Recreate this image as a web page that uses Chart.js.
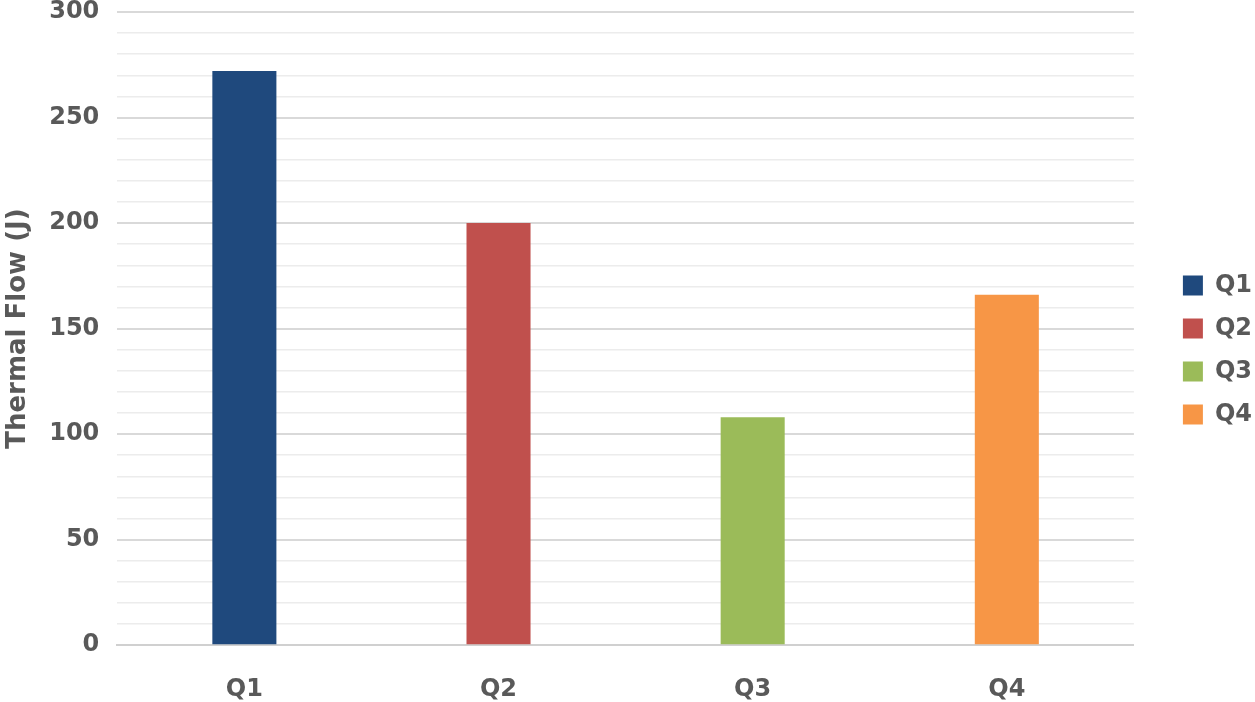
<!DOCTYPE html>
<html lang="en">
<head>
  <meta charset="UTF-8">
  <title>Thermal Flow</title>
  <script src="https://cdn.jsdelivr.net/npm/chart.js"></script>
  <style>
    html, body { margin: 0; padding: 0; background: #fff; }
    #wrap { width: 1255px; height: 702px; }
  </style>
</head>
<body>
  <div id="wrap"><canvas id="graphique" width="1255" height="702"></canvas></div>
  <script>
    const quarters = ["Q1", "Q2", "Q3", "Q4"];
    const thermalFlow = [272, 200, 108, 166];
    const barColors = ["#1f497d", "#c0504d", "#9bbb59", "#f79646"];

    const txt = "#595959";
    const font = { family: "DejaVu Sans", weight: "bold", size: 24 };

    // push the legend away from the plot, like the original
    const legendGap = {
      id: "legendGap",
      afterLayout(chart) {
        const lg = chart.legend;
        const w = lg.width;
        lg.left = chart.chartArea.right + 49 - lg.options.labels.padding;
        lg.right = lg.left + w;
        lg.top -= 13;
        lg.bottom -= 13;
      }
    };

    new Chart(document.getElementById("graphique"), {
      type: "bar",
      data: {
        labels: quarters,
        datasets: [{
          label: "Thermal Flow (J)",
          data: thermalFlow,
          backgroundColor: barColors,
          categoryPercentage: 1,
          barPercentage: 0.252
        }]
      },
      plugins: [legendGap],
      options: {
        responsive: false,
        animation: false,
        layout: { padding: { top: 0, left: 0, right: 23, bottom: -24 } },
        plugins: {
          tooltip: { enabled: false },
          legend: {
            position: "right",
            labels: {
              color: txt,
              font: font,
              boxWidth: 20,
              boxHeight: 20,
              padding: 19,
              generateLabels: chart => chart.data.labels.map((l, i) => ({
                text: l,
                fillStyle: barColors[i],
                strokeStyle: barColors[i],
                lineWidth: 0,
                fontColor: txt,
                index: i
              }))
            }
          }
        },
        scales: {
          x: {
            grid: { display: false },
            border: { display: true, color: "#d0d0d0", width: 2 },
            ticks: { color: txt, font: font, padding: 22 }
          },
          y: {
            min: 0,
            max: 300,
            border: { display: false },
            grid: {
              drawTicks: true,
              tickLength: 18,
              tickColor: "rgba(0,0,0,0)",
              color: c => c.tick.value % 50 === 0 ? "#d9d9d9" : "#ececec",
              lineWidth: c => c.tick.value % 50 === 0 ? 2 : 1.5
            },
            ticks: {
              stepSize: 10,
              autoSkip: false,
              color: txt,
              font: { family: "DejaVu Sans", weight: "bold", size: 24, lineHeight: 1 },
              padding: 0,
              callback: v => v % 50 === 0 ? v : ""
            },
            title: {
              display: true,
              text: "Thermal Flow (J)",
              color: txt,
              font: { family: "DejaVu Sans", weight: "bold", size: 26 },
              padding: { top: 3, bottom: 15 }
            }
          }
        }
      }
    });
  </script>
</body>
</html>
